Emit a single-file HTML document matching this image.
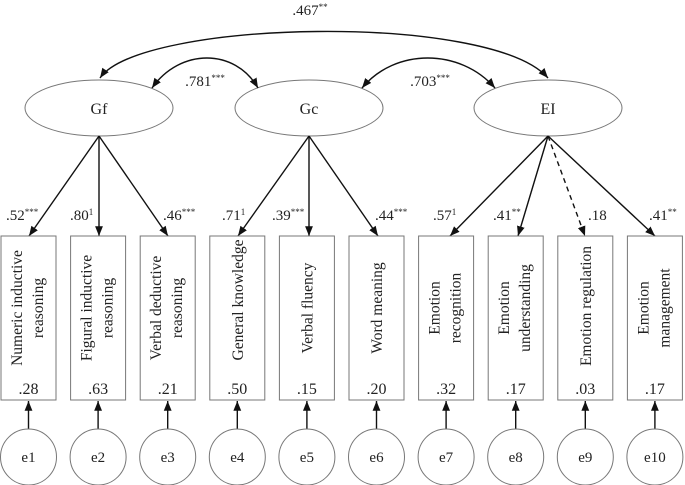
<!DOCTYPE html>
<html><head><meta charset="utf-8"><style>body{margin:0;background:#fff}svg{display:block}text{font-family:"Liberation Serif",serif;fill:#222}</style></head><body>
<svg width="685" height="485" viewBox="0 0 685 485" xmlns="http://www.w3.org/2000/svg">
<defs><marker id="a" viewBox="0 0 10 10" refX="10" refY="5" markerWidth="7" markerHeight="7" orient="auto-start-reverse"><path d="M0,1 L10,5 L0,9 z" fill="#111"/></marker></defs>
<g fill="none" stroke="#777" stroke-width="1">
<ellipse cx="99" cy="108" rx="74" ry="28"/>
<ellipse cx="309" cy="108" rx="74" ry="28"/>
<ellipse cx="548" cy="108" rx="74" ry="28"/>
</g>
<g font-size="16" text-anchor="middle">
<text x="99" y="114">Gf</text><text x="309" y="114">Gc</text><text x="548" y="114">EI</text>
</g>
<g fill="none" stroke="#111" stroke-width="1.4">
<path d="M100,78 C140,20 490,12 548,78" marker-start="url(#a)" marker-end="url(#a)"/>
<path d="M152,88 C180,48 235,48 258,88" marker-start="url(#a)" marker-end="url(#a)"/>
<path d="M362,88 C395,48 460,48 495,88" marker-start="url(#a)" marker-end="url(#a)"/>
<path d="M99,136 L29,236" marker-end="url(#a)"/>
<path d="M99,136 L99,236" marker-end="url(#a)"/>
<path d="M99,136 L168,236" marker-end="url(#a)"/>
<path d="M309,136 L238,236" marker-end="url(#a)"/>
<path d="M309,136 L309,236" marker-end="url(#a)"/>
<path d="M309,136 L378,236" marker-end="url(#a)"/>
<path d="M548,136 L450,236" marker-end="url(#a)"/>
<path d="M548,136 L518,236" marker-end="url(#a)"/>
<path d="M548,136 L585,236" stroke-dasharray="5,4" marker-end="url(#a)"/>
<path d="M548,136 L655,236" marker-end="url(#a)"/>
</g>
<g font-size="15">
<text x="310" y="15" text-anchor="middle">.467<tspan font-size="9" dy="-5">**</tspan></text>
<text x="205" y="86" text-anchor="middle">.781<tspan font-size="9" dy="-5">***</tspan></text>
<text x="430" y="86" text-anchor="middle">.703<tspan font-size="9" dy="-5">***</tspan></text>
<text x="6" y="220">.52<tspan font-size="9" dy="-5">***</tspan></text>
<text x="70" y="220">.80<tspan font-size="9" dy="-5">1</tspan></text>
<text x="163" y="220">.46<tspan font-size="9" dy="-5">***</tspan></text>
<text x="222" y="220">.71<tspan font-size="9" dy="-5">1</tspan></text>
<text x="272" y="220">.39<tspan font-size="9" dy="-5">***</tspan></text>
<text x="375" y="220">.44<tspan font-size="9" dy="-5">***</tspan></text>
<text x="433" y="220">.57<tspan font-size="9" dy="-5">1</tspan></text>
<text x="493" y="220">.41<tspan font-size="9" dy="-5">**</tspan></text>
<text x="588" y="220">.18</text>
<text x="649" y="220">.41<tspan font-size="9" dy="-5">**</tspan></text>
</g>
<g id="boxes" font-size="15.5">
<g transform="translate(1,0)"><rect x="0" y="236" width="55" height="164" fill="none" stroke="#777"/><text transform="translate(21,308) rotate(-90)" text-anchor="middle">Numeric inductive</text><text transform="translate(42,308) rotate(-90)" text-anchor="middle">reasoning</text><text x="27.5" y="394" font-size="16" text-anchor="middle">.28</text><line x1="27.5" y1="429" x2="27.5" y2="401" stroke="#111" stroke-width="1.4" marker-end="url(#a)"/><circle cx="27.5" cy="457" r="28" fill="none" stroke="#777"/><text x="27.5" y="462" font-size="15" text-anchor="middle">e1</text></g>
<g transform="translate(70.6,0)"><rect x="0" y="236" width="55" height="164" fill="none" stroke="#777"/><text transform="translate(21,308) rotate(-90)" text-anchor="middle">Figural inductive</text><text transform="translate(42,308) rotate(-90)" text-anchor="middle">reasoning</text><text x="27.5" y="394" font-size="16" text-anchor="middle">.63</text><line x1="27.5" y1="429" x2="27.5" y2="401" stroke="#111" stroke-width="1.4" marker-end="url(#a)"/><circle cx="27.5" cy="457" r="28" fill="none" stroke="#777"/><text x="27.5" y="462" font-size="15" text-anchor="middle">e2</text></g>
<g transform="translate(140.2,0)"><rect x="0" y="236" width="55" height="164" fill="none" stroke="#777"/><text transform="translate(21,308) rotate(-90)" text-anchor="middle">Verbal deductive</text><text transform="translate(42,308) rotate(-90)" text-anchor="middle">reasoning</text><text x="27.5" y="394" font-size="16" text-anchor="middle">.21</text><line x1="27.5" y1="429" x2="27.5" y2="401" stroke="#111" stroke-width="1.4" marker-end="url(#a)"/><circle cx="27.5" cy="457" r="28" fill="none" stroke="#777"/><text x="27.5" y="462" font-size="15" text-anchor="middle">e3</text></g>
<g transform="translate(209.8,0)"><rect x="0" y="236" width="55" height="164" fill="none" stroke="#777"/><text transform="translate(33,300) rotate(-90)" text-anchor="middle">General knowledge</text><text x="27.5" y="394" font-size="16" text-anchor="middle">.50</text><line x1="27.5" y1="429" x2="27.5" y2="401" stroke="#111" stroke-width="1.4" marker-end="url(#a)"/><circle cx="27.5" cy="457" r="28" fill="none" stroke="#777"/><text x="27.5" y="462" font-size="15" text-anchor="middle">e4</text></g>
<g transform="translate(279.4,0)"><rect x="0" y="236" width="55" height="164" fill="none" stroke="#777"/><text transform="translate(33,308) rotate(-90)" text-anchor="middle">Verbal fluency</text><text x="27.5" y="394" font-size="16" text-anchor="middle">.15</text><line x1="27.5" y1="429" x2="27.5" y2="401" stroke="#111" stroke-width="1.4" marker-end="url(#a)"/><circle cx="27.5" cy="457" r="28" fill="none" stroke="#777"/><text x="27.5" y="462" font-size="15" text-anchor="middle">e5</text></g>
<g transform="translate(349,0)"><rect x="0" y="236" width="55" height="164" fill="none" stroke="#777"/><text transform="translate(33,308) rotate(-90)" text-anchor="middle">Word meaning</text><text x="27.5" y="394" font-size="16" text-anchor="middle">.20</text><line x1="27.5" y1="429" x2="27.5" y2="401" stroke="#111" stroke-width="1.4" marker-end="url(#a)"/><circle cx="27.5" cy="457" r="28" fill="none" stroke="#777"/><text x="27.5" y="462" font-size="15" text-anchor="middle">e6</text></g>
<g transform="translate(418.6,0)"><rect x="0" y="236" width="55" height="164" fill="none" stroke="#777"/><text transform="translate(21,308) rotate(-90)" text-anchor="middle">Emotion</text><text transform="translate(42,308) rotate(-90)" text-anchor="middle">recognition</text><text x="27.5" y="394" font-size="16" text-anchor="middle">.32</text><line x1="27.5" y1="429" x2="27.5" y2="401" stroke="#111" stroke-width="1.4" marker-end="url(#a)"/><circle cx="27.5" cy="457" r="28" fill="none" stroke="#777"/><text x="27.5" y="462" font-size="15" text-anchor="middle">e7</text></g>
<g transform="translate(488.2,0)"><rect x="0" y="236" width="55" height="164" fill="none" stroke="#777"/><text transform="translate(21,308) rotate(-90)" text-anchor="middle">Emotion</text><text transform="translate(42,308) rotate(-90)" text-anchor="middle">understanding</text><text x="27.5" y="394" font-size="16" text-anchor="middle">.17</text><line x1="27.5" y1="429" x2="27.5" y2="401" stroke="#111" stroke-width="1.4" marker-end="url(#a)"/><circle cx="27.5" cy="457" r="28" fill="none" stroke="#777"/><text x="27.5" y="462" font-size="15" text-anchor="middle">e8</text></g>
<g transform="translate(557.8,0)"><rect x="0" y="236" width="55" height="164" fill="none" stroke="#777"/><text transform="translate(33,306) rotate(-90)" text-anchor="middle">Emotion regulation</text><text x="27.5" y="394" font-size="16" text-anchor="middle">.03</text><line x1="27.5" y1="429" x2="27.5" y2="401" stroke="#111" stroke-width="1.4" marker-end="url(#a)"/><circle cx="27.5" cy="457" r="28" fill="none" stroke="#777"/><text x="27.5" y="462" font-size="15" text-anchor="middle">e9</text></g>
<g transform="translate(627.4,0)"><rect x="0" y="236" width="55" height="164" fill="none" stroke="#777"/><text transform="translate(21,308) rotate(-90)" text-anchor="middle">Emotion</text><text transform="translate(42,308) rotate(-90)" text-anchor="middle">management</text><text x="27.5" y="394" font-size="16" text-anchor="middle">.17</text><line x1="27.5" y1="429" x2="27.5" y2="401" stroke="#111" stroke-width="1.4" marker-end="url(#a)"/><circle cx="27.5" cy="457" r="28" fill="none" stroke="#777"/><text x="27.5" y="462" font-size="15" text-anchor="middle">e10</text></g>
</g>
</svg>
</body></html>
